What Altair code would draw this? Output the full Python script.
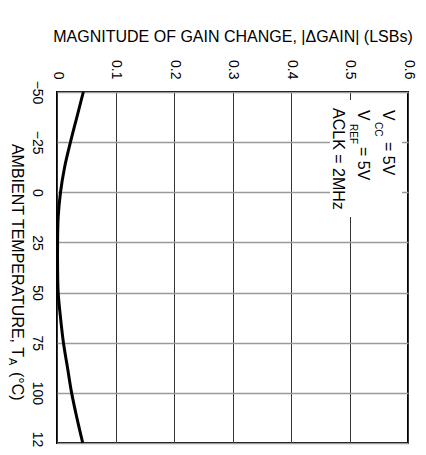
import altair as alt
import pandas as pd

# ---- data ----
temps = [-50, -37.5, -25, -12.5, 0, 12.5, 25, 37.5, 50, 62.5, 75, 87.5, 100, 112.5, 125]
gain = [0.045, 0.034, 0.023, 0.013, 0.006, 0.002, 0.001, 0.001, 0.002, 0.006, 0.011, 0.018, 0.025, 0.034, 0.044]
temp_ticks = [-50, -25, 0, 25, 50, 75, 100, 125]
gain_ticks = [0, 0.1, 0.2, 0.3, 0.4, 0.5, 0.6]

x_title = "MAGNITUDE OF GAIN CHANGE, |\u0394GAIN| (LSBs)"
y_title_main = "AMBIENT TEMPERATURE, T"
y_title_sub = "A"
y_title_end = "(\u00b0C)"

FONT = "Liberation Sans"

df = pd.DataFrame({"temp": temps, "gain": gain})
one = pd.DataFrame({"k": [0]})

W, H = 351, 351

xs = alt.Scale(domain=[0, 0.6], nice=False, zero=False)
ys = alt.Scale(domain=[-50, 125], nice=False, zero=False, reverse=True)

line = alt.Chart(df).mark_line(color="black", strokeWidth=3, interpolate="catmull-rom").encode(
    x=alt.X(
        "gain:Q",
        scale=xs,
        axis=alt.Axis(
            orient="top",
            values=gain_ticks,
            labelExpr="datum.value == 0 ? '0' : format(datum.value, '.1f')",
            labelAngle=90,
            labelAlign="right",
            labelBaseline="middle",
            labelPadding=13,
            labelFont=FONT,
            labelFontSize=14,
            labelColor="black",
            ticks=False,
            tickSize=0,
            domain=False,
            grid=True,
            gridColor="#333333",
            gridWidth=1,
            title=x_title,
            titleFont=FONT,
            titleColor="black",
            titleY=-51,
            titleBaseline="alphabetic",
            titleFontSize=16,
            titleFontWeight="normal",
            labelFlush=False,
            labelOverlap=False,
        ),
    ),
    y=alt.Y(
        "temp:Q",
        scale=ys,
        axis=alt.Axis(
            orient="left",
            values=temp_ticks,
            labelExpr="replace(format(datum.value, 'd'), '-', '\u2212')",
            labelAngle=90,
            labelAlign="center",
            labelBaseline="top",
            labelPadding=14,
            labelFont=FONT,
            labelFontSize=14,
            labelColor="black",
            ticks=False,
            tickSize=0,
            domain=False,
            grid=True,
            gridColor="#9a9a9a",
            gridWidth=1.5,
            title=None,
            labelFlush=False,
            labelOverlap=False,
        ),
    ),
    order=alt.Order("temp:Q"),
)

# white box behind annotation
box = alt.Chart(one).mark_rect(fill="white").encode(
    x=alt.value(273), x2=alt.value(345), y=alt.value(8), y2=alt.value(125)
)

def txt(s, x, y, size, align="left"):
    return alt.Chart(one).mark_text(
        text=s, angle=90, align=align, baseline="alphabetic",
        font=FONT, fontSize=size, fontWeight="normal", color="black"
    ).encode(x=alt.value(x), y=alt.value(y))

ann = [
    txt("V", 326, 18, 16),
    txt("CC", 318, 30, 10),
    txt("= 5V", 326, 50, 16),
    txt("V", 301, 18, 16),
    txt("REF", 293, 32, 10),
    txt("= 5V", 301, 55, 16),
    txt("ACLK = 2MHz", 276, 16, 16),
    txt(y_title_main, -45, 265, 16, align="right"),
    txt(y_title_sub, -48, 266, 11),
    txt(y_title_end, -45, 280, 16),
]

chart = alt.layer(line, box, *ann).properties(
    width=W, height=H,
    autosize=alt.AutoSizeParams(type="none"),
    padding={"left": 49, "top": 84, "right": 10, "bottom": 4},
    background="white",
).configure_view(
    stroke="black", strokeWidth=2
)

chart.save("out.html", embed_options={"renderer": "svg", "actions": False})
